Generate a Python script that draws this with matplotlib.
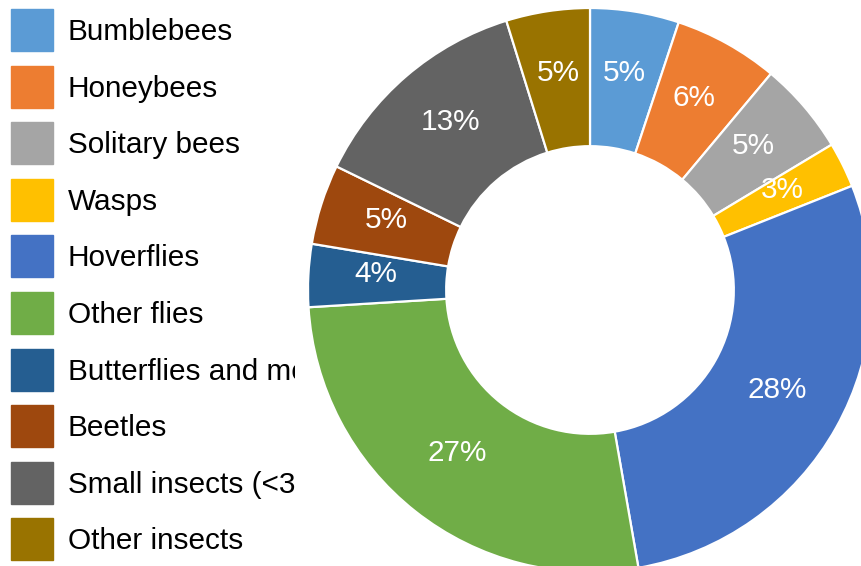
import matplotlib.pyplot as plt
from matplotlib.patches import Rectangle
from matplotlib.transforms import ScaledTranslation

plt.rcParams['font.family'] = ['Liberation Sans', 'DejaVu Sans']

groups = ['Bumblebees', 'Honeybees', 'Solitary bees', 'Wasps', 'Hoverflies',
          'Other flies', 'Butterflies and moths', 'Beetles',
          'Small insects (<3 mm)', 'Other insects']
shares = [5.1, 6.0, 5.3, 2.6, 28.3, 26.8, 3.6, 4.6, 13.0, 4.8]
colors = ['#5B9BD5', '#ED7D31', '#A5A5A5', '#FFC000', '#4472C4',
          '#70AD47', '#255E91', '#9E480E', '#636363', '#997300']

W, H = 862, 566
fig = plt.figure(figsize=(W / 100, H / 100), dpi=100)

# legend panel, clipped at its right edge like the original
lax = fig.add_axes([0, 0, 295 / W, 1])
lax.set_xlim(0, 295)
lax.set_ylim(H, 0)
lax.axis('off')
for i, (name, c) in enumerate(zip(groups, colors)):
    yc = 30 + i * 56.6
    lax.add_patch(Rectangle((11, yc - 21), 42, 42, color=c, clip_on=True))
    lax.text(68, yc + 2, name, fontsize=21.4, va='center', ha='left', clip_on=True)

# donut: centre (590, 290) px, outer radius 282 px
cx, cy, R = 590, 290, 282
ax = fig.add_axes([(cx - R) / W, (H - cy - R) / H, 2 * R / W, 2 * R / H])
wedges, texts, autotexts = ax.pie(
    shares, colors=colors, startangle=90, counterclock=False,
    autopct='%.0f%%', pctdistance=0.76,
    wedgeprops=dict(width=0.49, edgecolor='white', linewidth=1.6),
    textprops=dict(color='white', fontsize=21.4))
ax.set_xlim(-1, 1)
ax.set_ylim(-1, 1)
ax.set_frame_on(False)
for w in wedges:
    w.set_clip_on(False)
up = ScaledTranslation(0, 5 / 100, fig.dpi_scale_trans)
for t in autotexts:
    t.set_transform(t.get_transform() + up)

fig.savefig('out.png', dpi=100)
